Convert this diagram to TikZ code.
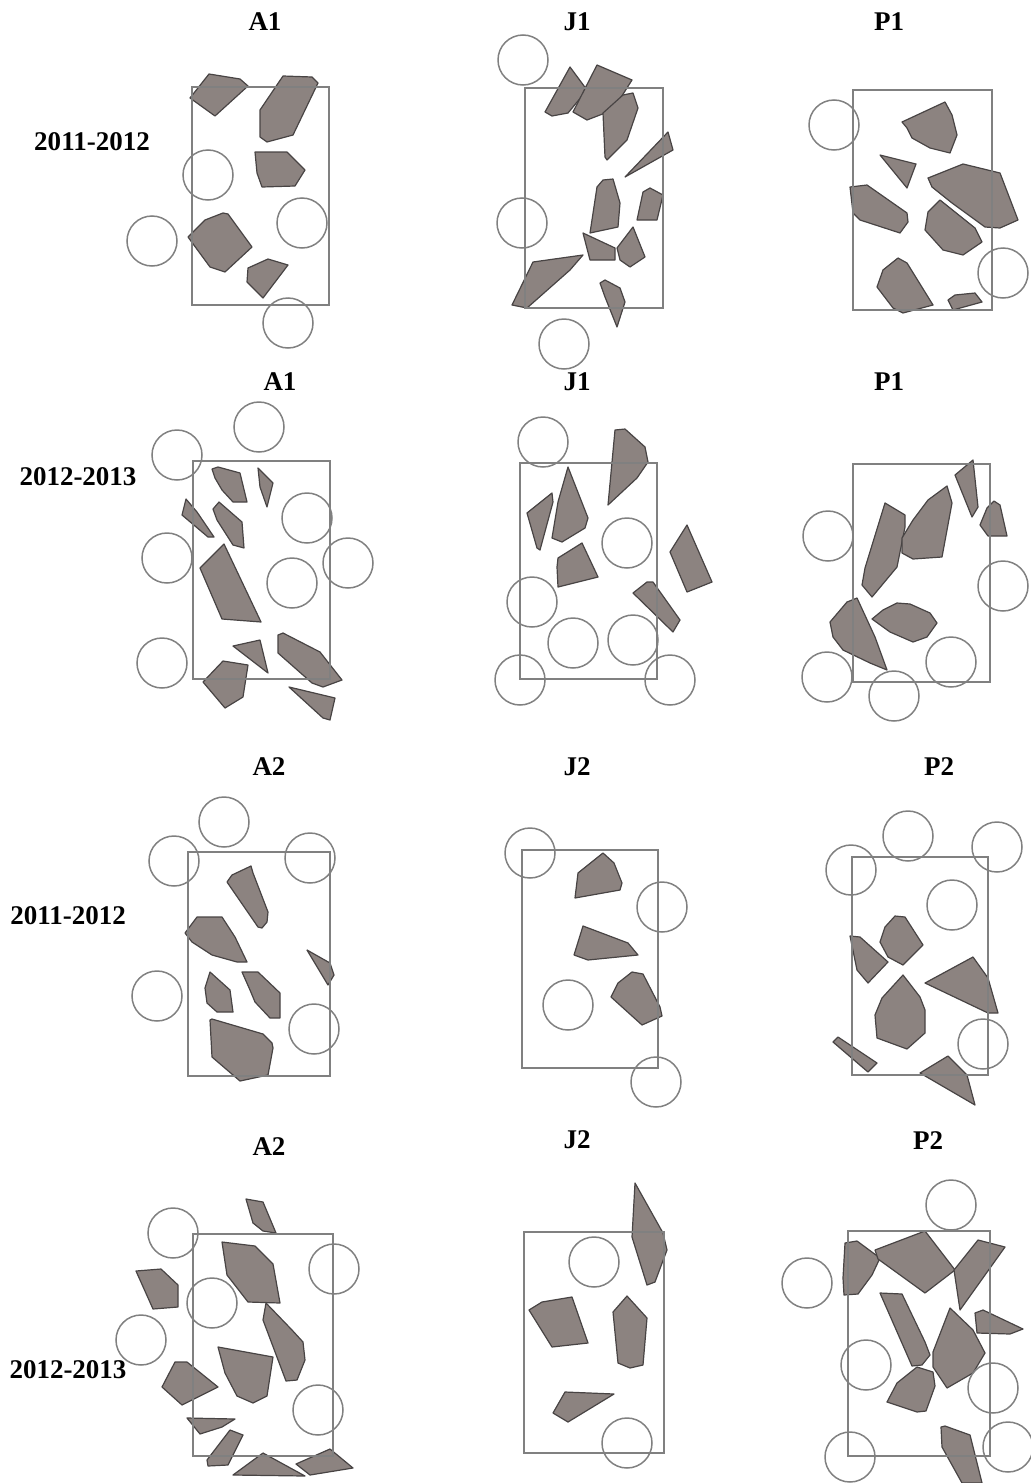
\documentclass[tikz,border=0pt]{standalone}
\usepackage{fontspec}
\setmainfont{Liberation Serif}
\definecolor{stonefill}{RGB}{140,131,128}
\definecolor{stoneedge}{RGB}{72,68,68}
\definecolor{plotline}{RGB}{128,128,128}
\begin{document}
\begin{tikzpicture}[x=0.5pt,y=-0.5pt,
	stone/.style={fill=stonefill,draw=stoneedge,line width=0.6pt,line join=round},
	plot/.style={draw=plotline,line width=0.75pt},
	ring/.style={draw=plotline,line width=0.75pt},
	lbl/.style={font=\fontsize{13.5}{16}\selectfont\bfseries}]
	\useasboundingbox (0,0) rectangle (1030,1483);
	% labels
	\node[lbl] (tA1a) at (265,22) {A1};
	\node[lbl] (tJ1a) at (577,22) {J1};
	\node[lbl] (tP1a) at (889,22) {P1};
	\node[lbl] (tA1b) at (280,382) {A1};
	\node[lbl] (tJ1b) at (577,382) {J1};
	\node[lbl] (tP1b) at (889,382) {P1};
	\node[lbl] (tA2a) at (269,767) {A2};
	\node[lbl] (tJ2a) at (577,767) {J2};
	\node[lbl] (tP2a) at (939,767) {P2};
	\node[lbl] (tA2b) at (269,1147) {A2};
	\node[lbl] (tJ2b) at (577,1140) {J2};
	\node[lbl] (tP2b) at (928,1141) {P2};
	\node[lbl] (yr1) at (92,142) {2011-2012};
	\node[lbl] (yr2) at (78,477) {2012-2013};
	\node[lbl] (yr3) at (68,916) {2011-2012};
	\node[lbl] (yr4) at (68,1370) {2012-2013};
	% A1, 2011-2012
	\draw[stone] (190,98)--(209,74)--(240,79)--(248,86)--(215,116)--cycle;
	\draw[stone] (260,110)--(283,76)--(312,77)--(318,83)--(293,135)--(267,142)--(260,137)--cycle;
	\draw[stone] (255,152)--(287,152)--(305,170)--(295,186)--(262,187)--(257,173)--cycle;
	\draw[stone] (188,237)--(205,220)--(223,213)--(228,214)--(252,247)--(225,272)--(210,267)--cycle;
	\draw[stone] (248,268)--(268,259)--(288,265)--(263,298)--(247,282)--cycle;
	\draw[plot] (192,87) rectangle (329,305);
	\foreach \x/\y in {208/175,152/241,302/223,288/323}
		\draw[ring] (\x,\y) circle[radius=12.5pt];
	% J1, 2011-2012
	\draw[stone] (545,112)--(570,67)--(587,90)--(568,113)--(552,116)--cycle;
	\draw[stone] (573,112)--(597,65)--(632,80)--(613,110)--(587,120)--cycle;
	\draw[stone] (603,113)--(623,95)--(633,93)--(638,108)--(627,140)--(607,160)--(605,157)--cycle;
	\draw[stone] (625,177)--(668,132)--(673,150)--cycle;
	\draw[stone] (590,233)--(597,187)--(603,180)--(613,179)--(620,203)--(618,227)--cycle;
	\draw[stone] (637,220)--(643,192)--(650,188)--(663,195)--(657,220)--cycle;
	\draw[stone] (583,233)--(615,248)--(615,260)--(590,260)--cycle;
	\draw[stone] (617,248)--(633,227)--(645,257)--(630,267)--(620,260)--cycle;
	\draw[stone] (512,305)--(533,262)--(583,255)--(570,270)--(527,308)--cycle;
	\draw[stone] (600,283)--(605,280)--(620,288)--(625,302)--(617,327)--(605,297)--cycle;
	\draw[plot] (525,88) rectangle (663,308);
	\foreach \x/\y in {523/60,522/223,564/344}
		\draw[ring] (\x,\y) circle[radius=12.5pt];
	% P1, 2011-2012
	\draw[stone] (902,122)--(945,102)--(952,115)--(957,135)--(950,153)--(930,148)--(912,138)--(907,128)--cycle;
	\draw[stone] (880,155)--(916,164)--(907,188)--cycle;
	\draw[stone] (850,187)--(867,185)--(907,213)--(908,222)--(900,233)--(860,220)--(853,213)--cycle;
	\draw[stone] (928,178)--(963,164)--(1000,173)--(1018,220)--(1000,228)--(985,227)--(952,203)--(932,187)--cycle;
	\draw[stone] (925,230)--(928,212)--(940,200)--(975,228)--(982,242)--(963,255)--(943,250)--cycle;
	\draw[stone] (877,287)--(883,270)--(898,258)--(907,263)--(933,305)--(903,313)--(893,308)--cycle;
	\draw[stone] (948,300)--(955,295)--(975,293)--(982,302)--(953,310)--cycle;
	\draw[plot] (853,90) rectangle (992,310);
	\foreach \x/\y in {834/125,1003/273}
		\draw[ring] (\x,\y) circle[radius=12.5pt];
	% A1, 2012-2013
	\draw[stone] (212,469)--(218,467)--(240,473)--(247,502)--(233,502)--(222,490)--(215,478)--cycle;
	\draw[stone] (258,468)--(273,483)--(267,507)--(260,487)--cycle;
	\draw[stone] (182,515)--(186,499)--(197,512)--(214,537)--(208,537)--cycle;
	\draw[stone] (213,509)--(219,502)--(242,522)--(244,548)--(233,545)--(217,520)--cycle;
	\draw[stone] (200,568)--(224,544)--(261,622)--(222,619)--cycle;
	\draw[stone] (233,646)--(260,640)--(268,673)--cycle;
	\draw[stone] (278,635)--(283,633)--(320,652)--(342,680)--(323,687)--(312,683)--(278,653)--cycle;
	\draw[stone] (203,682)--(223,661)--(248,665)--(243,697)--(225,708)--cycle;
	\draw[stone] (289,687)--(335,698)--(330,720)--(323,718)--cycle;
	\draw[plot] (193,461) rectangle (330,679);
	\foreach \x/\y in {177/455,259/427,167/558,307/518,348/563,292/583,162/663}
		\draw[ring] (\x,\y) circle[radius=12.5pt];
	% J1, 2012-2013
	\draw[stone] (527,513)--(552,493)--(553,502)--(540,550)--(537,548)--cycle;
	\draw[stone] (552,538)--(558,502)--(568,467)--(588,518)--(585,528)--(562,542)--cycle;
	\draw[stone] (608,505)--(615,430)--(625,429)--(645,447)--(648,462)--(637,478)--cycle;
	\draw[stone] (557,567)--(558,558)--(582,543)--(598,577)--(558,587)--cycle;
	\draw[stone] (670,552)--(687,525)--(712,582)--(687,592)--cycle;
	\draw[stone] (633,593)--(647,582)--(653,582)--(680,620)--(673,632)--cycle;
	\draw[plot] (520,463) rectangle (657,679);
	\foreach \x/\y in {543/442,627/543,532/602,573/643,633/640,520/680,670/680}
		\draw[ring] (\x,\y) circle[radius=12.5pt];
	% P1, 2012-2013
	\draw[stone] (862,585)--(865,568)--(885,503)--(905,515)--(905,527)--(897,567)--(872,597)--cycle;
	\draw[stone] (902,553)--(902,538)--(913,520)--(928,500)--(947,486)--(952,503)--(942,557)--(913,559)--cycle;
	\draw[stone] (955,475)--(973,460)--(978,507)--(972,517)--cycle;
	\draw[stone] (980,525)--(987,508)--(994,501)--(1000,505)--(1007,536)--(988,536)--cycle;
	\draw[stone] (872,619)--(883,610)--(897,603)--(910,604)--(930,613)--(937,623)--(927,637)--(913,642)--(890,632)--cycle;
	\draw[stone] (830,622)--(847,602)--(857,598)--(875,637)--(887,670)--(870,663)--(843,650)--(833,637)--cycle;
	\draw[plot] (853,464) rectangle (990,682);
	\foreach \x/\y in {828/536,1003/586,827/677,894/696,951/662}
		\draw[ring] (\x,\y) circle[radius=12.5pt];
	% A2, 2011-2012
	\draw[stone] (227,882)--(232,875)--(251,866)--(253,873)--(268,912)--(267,922)--(262,928)--(258,927)--cycle;
	\draw[stone] (185,933)--(197,917)--(222,917)--(235,937)--(247,962)--(237,962)--(212,955)--(192,942)--cycle;
	\draw[stone] (307,950)--(330,963)--(334,975)--(328,985)--cycle;
	\draw[stone] (205,988)--(210,972)--(230,990)--(233,1012)--(217,1012)--(207,1003)--cycle;
	\draw[stone] (242,972)--(258,972)--(280,993)--(280,1018)--(270,1018)--(255,1002)--(250,990)--cycle;
	\draw[stone] (210,1020)--(212,1019)--(263,1034)--(272,1043)--(273,1048)--(268,1075)--(240,1081)--(212,1057)--cycle;
	\draw[plot] (188,852) rectangle (330,1076);
	\foreach \x/\y in {224/822,174/861,310/858,157/996,314/1029}
		\draw[ring] (\x,\y) circle[radius=12.5pt];
	% J2, 2011-2012
	\draw[stone] (575,898)--(578,873)--(603,853)--(614,863)--(622,883)--(620,890)--cycle;
	\draw[stone] (574,955)--(583,926)--(628,943)--(638,955)--(588,960)--cycle;
	\draw[stone] (611,997)--(618,983)--(632,972)--(643,974)--(660,1007)--(662,1016)--(642,1025)--cycle;
	\draw[plot] (522,850) rectangle (658,1068);
	\foreach \x/\y in {530/853,662/907,568/1005,656/1082}
		\draw[ring] (\x,\y) circle[radius=12.5pt];
	% P2, 2011-2012
	\draw[stone] (880,942)--(885,927)--(895,916)--(905,917)--(923,945)--(903,965)--(888,957)--cycle;
	\draw[stone] (850,936)--(860,937)--(888,962)--(868,983)--(857,970)--cycle;
	\draw[stone] (925,983)--(973,957)--(988,978)--(998,1013)--(988,1013)--cycle;
	\draw[stone] (875,1015)--(882,998)--(903,975)--(920,997)--(925,1010)--(925,1033)--(907,1049)--(877,1038)--cycle;
	\draw[stone] (833,1042)--(838,1037)--(877,1063)--(868,1072)--cycle;
	\draw[stone] (920,1073)--(948,1056)--(967,1075)--(975,1105)--cycle;
	\draw[plot] (852,857) rectangle (988,1075);
	\foreach \x/\y in {851/870,908/836,997/847,952/905,983/1044}
		\draw[ring] (\x,\y) circle[radius=12.5pt];
	% A2, 2012-2013
	\draw[stone] (246,1199)--(263,1202)--(276,1233)--(263,1231)--(253,1223)--cycle;
	\draw[stone] (222,1242)--(255,1246)--(273,1264)--(280,1303)--(248,1302)--(227,1275)--cycle;
	\draw[stone] (136,1271)--(161,1269)--(178,1285)--(178,1307)--(153,1309)--cycle;
	\draw[stone] (263,1320)--(266,1303)--(292,1330)--(303,1342)--(305,1360)--(297,1380)--(286,1381)--cycle;
	\draw[stone] (218,1347)--(273,1357)--(267,1396)--(253,1403)--(237,1396)--(225,1373)--cycle;
	\draw[stone] (162,1387)--(175,1362)--(187,1362)--(218,1387)--(182,1405)--cycle;
	\draw[stone] (187,1418)--(235,1419)--(222,1427)--(200,1434)--cycle;
	\draw[stone] (207,1460)--(230,1430)--(243,1435)--(228,1465)--(208,1466)--cycle;
	\draw[stone] (233,1475)--(263,1453)--(305,1476)--cycle;
	\draw[stone] (296,1464)--(330,1449)--(353,1468)--(310,1475)--cycle;
	\draw[plot] (193,1234) rectangle (333,1456);
	\foreach \x/\y in {173/1233,334/1269,212/1303,141/1340,318/1410}
		\draw[ring] (\x,\y) circle[radius=12.5pt];
	% J2, 2012-2013
	\draw[stone] (635,1183)--(663,1233)--(667,1250)--(655,1282)--(647,1285)--(632,1237)--cycle;
	\draw[stone] (529,1310)--(542,1302)--(572,1297)--(588,1343)--(552,1347)--cycle;
	\draw[stone] (613,1312)--(627,1296)--(647,1318)--(643,1365)--(630,1368)--(618,1363)--cycle;
	\draw[stone] (553,1413)--(565,1392)--(614,1394)--(568,1422)--cycle;
	\draw[plot] (524,1232) rectangle (664,1453);
	\foreach \x/\y in {594/1262,627/1443}
		\draw[ring] (\x,\y) circle[radius=12.5pt];
	% P2, 2012-2013
	\draw[stone] (843,1278)--(845,1243)--(857,1241)--(880,1258)--(872,1275)--(858,1294)--(844,1295)--cycle;
	\draw[stone] (875,1250)--(925,1231)--(955,1270)--(925,1293)--(878,1259)--cycle;
	\draw[stone] (954,1270)--(978,1240)--(1005,1247)--(960,1310)--cycle;
	\draw[stone] (880,1293)--(902,1294)--(925,1342)--(930,1355)--(922,1365)--(912,1366)--cycle;
	\draw[stone] (933,1352)--(950,1308)--(973,1330)--(985,1353)--(973,1373)--(947,1388)--(933,1367)--cycle;
	\draw[stone] (975,1313)--(983,1310)--(1023,1329)--(1010,1334)--(977,1333)--cycle;
	\draw[stone] (887,1402)--(897,1383)--(917,1367)--(933,1372)--(935,1386)--(926,1411)--(917,1412)--cycle;
	\draw[stone] (941,1427)--(945,1426)--(970,1435)--(982,1483)--(962,1483)--(942,1447)--cycle;
	\draw[plot] (848,1231) rectangle (990,1456);
	\foreach \x/\y in {951/1205,807/1283,866/1365,993/1388,850/1457,1008/1447}
		\draw[ring] (\x,\y) circle[radius=12.5pt];
\end{tikzpicture}
\end{document}
